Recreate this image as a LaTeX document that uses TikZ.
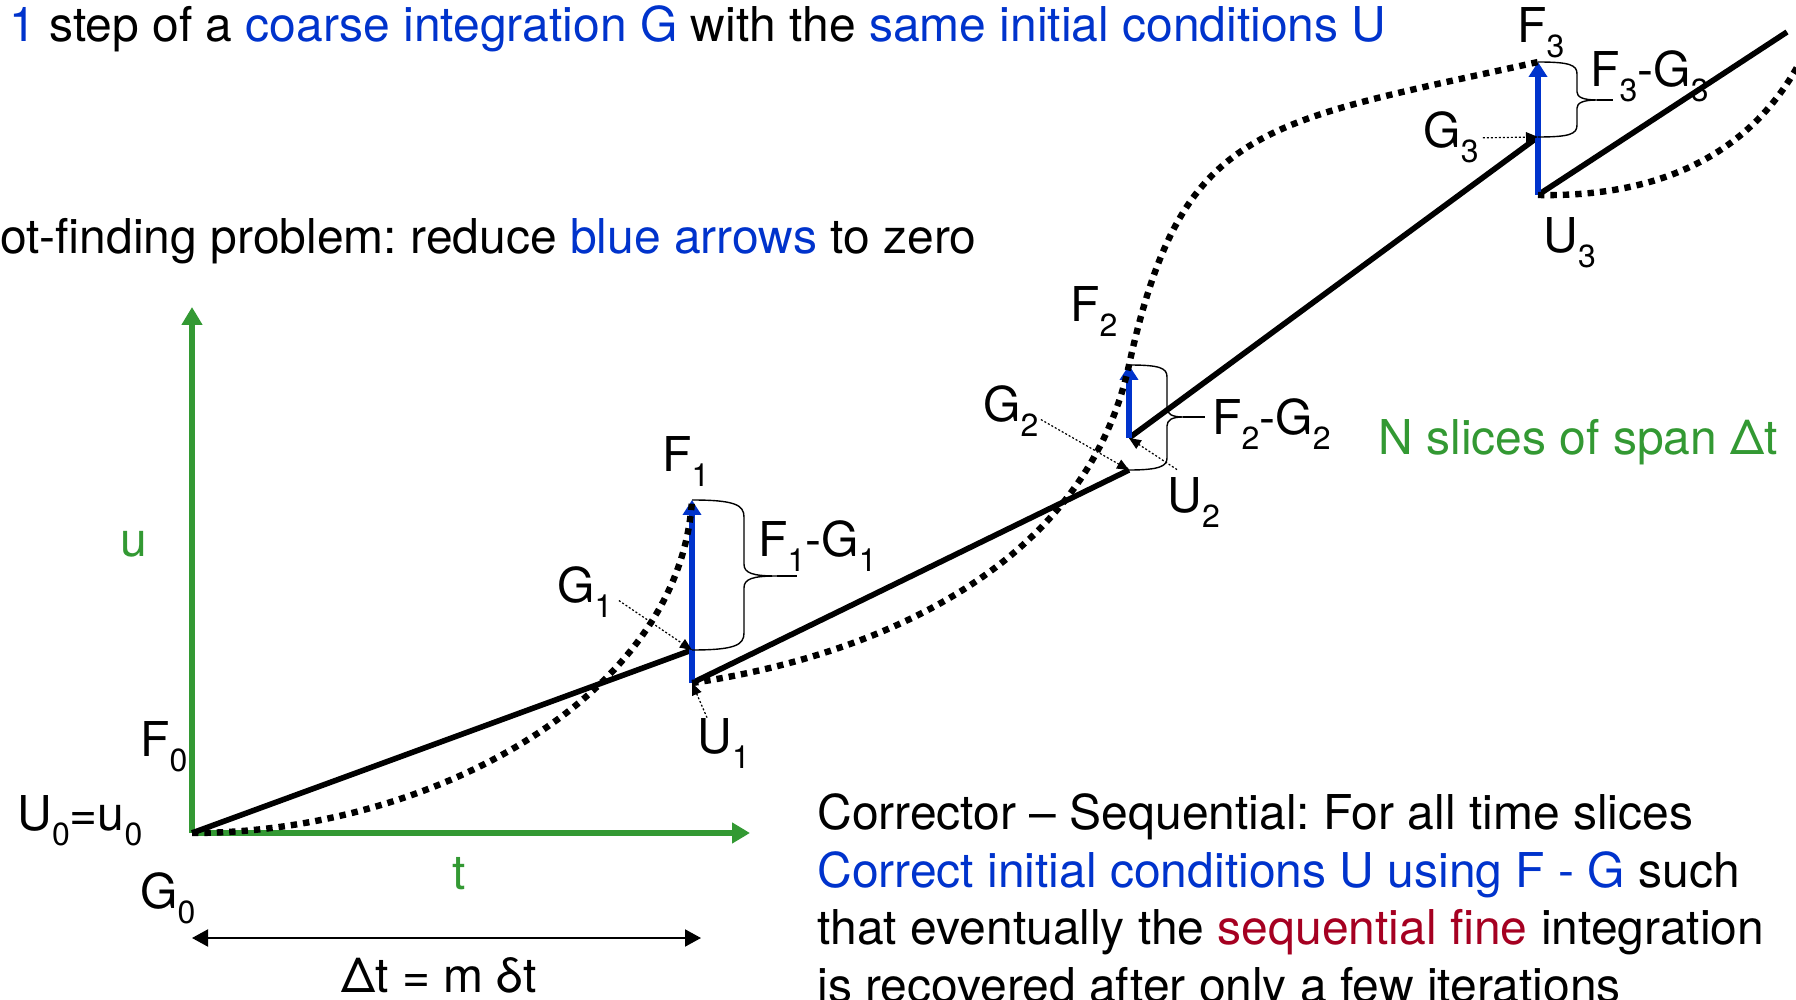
\documentclass[tikz,border=0pt]{standalone}
\usepackage{fontspec}
\setmainfont{TeX Gyre Heros}
\usetikzlibrary{arrows.meta}
\definecolor{prBlue}{RGB}{0,51,204}
\definecolor{prGreen}{RGB}{51,153,51}
\definecolor{prRed}{RGB}{165,0,33}
\newcommand{\lowsub}[1]{\raisebox{-7.5pt}{\fontsize{16pt}{16pt}\selectfont #1}}
\frenchspacing

\begin{document}
\begin{tikzpicture}[x=0.5pt, y=-0.5pt,
  every node/.style={font=\fontsize{24pt}{28.75pt}\selectfont, inner sep=0pt, anchor=base west},
  coarseline/.style={line width=2.8pt, color=black},
  fineline/.style={line width=3.2pt, dash pattern=on 3.2pt off 3pt},
  jumparrow/.style={-{Triangle[length=7.5pt,width=9pt]}, line width=3pt, color=prBlue},
  axisline/.style={-{Triangle[length=9pt,width=10pt]}, line width=2.75pt, color=prGreen},
  pointer/.style={-{Triangle[length=6pt,width=5pt]}, line width=0.6pt, dash pattern=on 1pt off 1pt},
  bracket/.style={line width=0.7pt}]
\useasboundingbox (0,0) rectangle (1796,1000);

% points of the slices
\coordinate (o) at (192,833);
\coordinate (utop) at (192,307);
\coordinate (tend) at (750,833);
\coordinate (g1) at (692,650);
\coordinate (u1) at (692,683);
\coordinate (f1) at (692,500);
\coordinate (g2) at (1129,470);
\coordinate (u2) at (1129,438);
\coordinate (f2) at (1129,365);
\coordinate (g3) at (1538,137);
\coordinate (u3) at (1538,195);
\coordinate (f3) at (1538,62);
\coordinate (cend) at (1787,32);
\coordinate (fout) at (1802,58);
\coordinate (b1) at (777,576);
\coordinate (b2) at (1183,417);
\coordinate (b3) at (1597,100);
\coordinate (dl) at (192,938);
\coordinate (dr) at (701,938);

% texts
\node (top) at (9,42) {\textcolor{prBlue}{1} step of a \textcolor{prBlue}{coarse integration G} with the \textcolor{prBlue}{same initial conditions U}};
\node (root) at (0,254) {ot-finding problem: reduce \textcolor{prBlue}{blue arrows} to zero};
\node[text=prGreen] (nsl) at (1378,455) {N slices of span Δt};
\node (cs1) at (817,829) {Corrector – Sequential: For all time slices};
\node (cs2) at (817,887) {\textcolor{prBlue}{Correct initial conditions U using F - G} such};
\node (cs3) at (817,944) {that eventually the \textcolor{prRed}{sequential fine} integration};
\node (cs4) at (817,1002) {is recovered after only a few iterations};

% axes
\draw[axisline] (o) -- (utop);
\draw[axisline] (o) -- (tend);
\node[text=prGreen, anchor=center] (ulab) at (134,544) {u};
\node[text=prGreen, anchor=center] (tlab) at (459,874) {t};
\draw[{Triangle[length=8pt,width=8.5pt]}-{Triangle[length=8pt,width=8.5pt]}, line width=1pt] (dl) -- (dr);
\node[anchor=center] (dtlab) at (439,975) {Δt = m δt};

% coarse steps
\draw[coarseline] (o) -- (g1);
\draw[coarseline] (u1) -- (g2);
\draw[coarseline] (u2) -- (g3);
\draw[coarseline] (u3) -- (cend);

% corrections
\draw[jumparrow] (u1) -- (f1);
\draw[jumparrow] (u2) -- (f2);
\draw[jumparrow] (u3) -- (f3);

% fine solution
\draw[fineline] (o) .. controls (425,833) and (680,700) .. (f1);
\draw[fineline] (u1) .. controls (843,661) and (1081,585) .. (f2) .. controls (1182,125) and (1257,124) .. (f3);
\draw[fineline] (u3) .. controls (1690,198) and (1765,130) .. (fout);

% braces
\draw[bracket] (f1) .. controls (735,500) and (744,505) .. (744,517) -- (744,564) .. controls (744,573) and (752,576) .. (b1) .. controls (752,576) and (744,579) .. (744,588) -- (744,633) .. controls (744,645) and (735,650) .. (g1);
\draw[bracket] (b1) -- ++(20,0);
\draw[bracket] (f2) .. controls (1160,365) and (1167,368) .. (1167,377) -- (1167,408) .. controls (1167,414) and (1172,417) .. (b2) .. controls (1172,417) and (1167,420) .. (1167,426) -- (1167,458) .. controls (1167,466) and (1160,470) .. (g2);
\draw[bracket] (b2) -- ++(22,0);
\draw[bracket] (f3) .. controls (1570,62) and (1577,65) .. (1577,74) -- (1577,92) .. controls (1577,97) and (1583,100) .. (b3) .. controls (1583,100) and (1577,103) .. (1577,108) -- (1577,125) .. controls (1577,134) and (1570,137) .. (g3);
\draw[bracket] (b3) -- ++(16,0);

% labels
\node (lf0) at (140,756) {F\lowsub{0}};
\node (lu0) at (17,830) {U\lowsub{0}=u\lowsub{0}};
\node (lg0) at (140,908) {G\lowsub{0}};
\node (lf1) at (662,472) {F\lowsub{1}};
\node (lg1) at (557,603) {G\lowsub{1}};
\node (lu1) at (697,753) {U\lowsub{1}};
\node (lfg1) at (758,557) {F\lowsub{1}-G\lowsub{1}};
\node (lf2) at (1070,322) {F\lowsub{2}};
\node (lg2) at (983,422) {G\lowsub{2}};
\node (lu2) at (1167,513) {U\lowsub{2}};
\node (lfg2) at (1212,435) {F\lowsub{2}-G\lowsub{2}};
\node (lf3) at (1517,43) {F\lowsub{3}};
\node (lg3) at (1423,148) {G\lowsub{3}};
\node (lu3) at (1543,253) {U\lowsub{3}};
\node (lfg3) at (1590,87) {F\lowsub{3}-G\lowsub{3}};

% pointers
\draw[pointer] ([shift={(6,8)}]lg1.east) -- (g1);
\draw[pointer] ([xshift=5pt]lu1.north west) -- (u1);
\draw[pointer] ([shift={(2,8)}]lg2.east) -- (g2);
\draw[pointer] ([shift={(10,-8)}]lu2.north west) -- (u2);
\draw[pointer] ([xshift=2pt]lg3.east) -- (g3);
\end{tikzpicture}
\end{document}
